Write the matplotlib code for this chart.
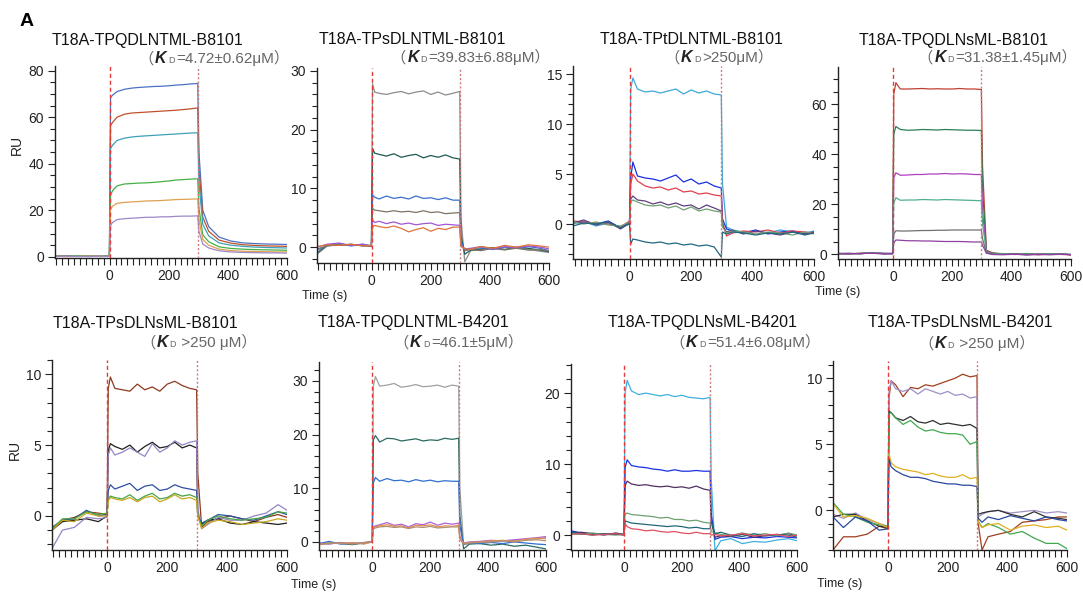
import matplotlib
matplotlib.use("Agg")
import matplotlib.pyplot as plt
from matplotlib.ticker import MultipleLocator
from matplotlib.offsetbox import TextArea, HPacker, AnnotationBbox

W, H = 1083, 592
FAM = ['Liberation Sans', 'Noto Sans CJK SC', 'DejaVu Sans']

# sampled time points (s), shared by every sensorgram
TIME = [-185, -150, -110, -70, -30, -1,
        3, 10, 25, 50, 75, 100, 125, 150, 175, 200, 225, 250, 275, 298,
        302, 315, 335, 370, 410, 450, 490, 530, 570, 600]

TITLES = ['T18A-TPQDLNTML-B8101', 'T18A-TPsDLNTML-B8101', 'T18A-TPtDLNTML-B8101', 'T18A-TPQDLNsML-B8101',
          'T18A-TPsDLNsML-B8101', 'T18A-TPQDLNTML-B4201', 'T18A-TPQDLNsML-B4201', 'T18A-TPsDLNsML-B4201']
KD_VALUES = ['=4.72±0.62μM', '=39.83±6.88μM', '>250μM', '=31.38±1.45μM',
             ' >250 μM', '=46.1±5μM', '=51.4±6.08μM', ' >250 μM']

# RU responses, one list per concentration
RU_1 = [
    [0.5, 0.4, 0.3, 0.2, 0.3, 0.5, 68.5, 69.5, 71.0, 72.0, 72.5, 72.8, 73.0, 73.2, 73.3, 73.5, 73.8, 74.0, 74.3, 74.5, 45.0, 20.0, 13.0, 8.5, 6.8, 6.0, 5.7, 5.5, 5.4, 5.3],
    [0.3, 0.5, 0.2, 0.4, 0.2, 0.4, 56.5, 57.8, 60.0, 61.3, 61.8, 62.0, 62.2, 62.4, 62.6, 62.8, 63.0, 63.3, 63.6, 64.0, 38.0, 17.0, 11.0, 7.2, 5.9, 5.2, 4.9, 4.7, 4.6, 4.5],
    [0.2, 0.3, 0.4, 0.1, 0.3, 0.2, 46.5, 48.0, 50.0, 51.0, 51.5, 51.8, 52.0, 52.2, 52.4, 52.6, 52.8, 53.0, 53.2, 53.3, 32.0, 14.0, 9.0, 6.0, 5.0, 4.5, 4.2, 4.0, 3.9, 3.8],
    [0.4, 0.2, 0.3, 0.5, 0.1, 0.3, 26.5, 28.5, 30.5, 31.3, 31.5, 31.7, 31.8, 32.0, 32.3, 32.6, 33.0, 33.2, 33.4, 33.5, 21.0, 9.5, 6.5, 4.3, 3.6, 3.3, 3.1, 3.0, 2.9, 2.8],
    [0.3, 0.1, 0.2, 0.3, 0.2, 0.2, 20.5, 21.8, 23.0, 23.4, 23.6, 23.8, 24.0, 24.1, 24.2, 24.4, 24.6, 24.7, 24.8, 24.9, 16.0, 7.5, 5.0, 3.3, 2.7, 2.4, 2.3, 2.2, 2.1, 2.1],
    [0.2, 0.3, 0.1, 0.2, 0.3, 0.1, 13.5, 14.8, 16.0, 16.4, 16.6, 16.8, 17.0, 17.0, 17.2, 17.2, 17.4, 17.5, 17.5, 17.6, 11.0, 5.5, 3.8, 2.6, 2.1, 1.9, 1.8, 1.7, 1.7, 1.6],
]
RU_2 = [
    [-1.2, 0.2, 0.5, 0.3, 0.4, 0.1, 27.8, 26.4, 26.2, 26.0, 26.3, 26.5, 26.1, 26.4, 26.6, 26.0, 26.4, 25.9, 26.2, 26.5, 5.0, -2.5, -0.6, -0.4, -0.2, -0.5, -0.1, -0.4, -0.7, -0.9],
    [-1.0, 0.4, 0.3, 0.5, 0.2, 0.3, 16.8, 16.0, 15.8, 15.5, 15.9, 15.3, 15.6, 15.8, 15.2, 15.6, 15.3, 15.7, 15.2, 15.0, 2.0, -1.2, -0.5, -0.3, -0.1, -0.4, 0.0, -0.2, -0.5, -0.8],
    [-0.5, 0.3, 0.6, 0.2, 0.5, 0.2, 8.9, 8.5, 8.2, 8.7, 8.3, 8.5, 8.2, 8.7, 8.3, 8.4, 8.1, 8.4, 8.0, 8.0, 1.0, -0.5, -0.3, -0.1, -0.4, 0.0, -0.2, 0.1, -0.2, -0.6],
    [-0.3, 0.2, 0.4, 0.3, 0.3, 0.1, 6.6, 6.3, 6.2, 6.0, 6.2, 6.0, 6.1, 5.9, 6.2, 5.9, 6.0, 5.7, 5.8, 5.9, 0.5, -0.6, -0.4, -0.6, -0.2, -0.4, -0.2, -0.5, -0.4, -0.7],
    [0.0, 0.5, 0.7, 0.3, 0.5, 0.2, 4.6, 4.2, 4.4, 4.0, 4.3, 3.9, 4.1, 3.8, 4.0, 4.1, 3.7, 3.9, 3.8, 3.7, 0.2, -0.3, -0.2, 0.1, -0.3, 0.1, -0.1, 0.2, 0.0, -0.3],
    [0.1, 0.4, 0.3, 0.5, 0.2, 0.3, 3.4, 3.7, 3.5, 3.3, 3.6, 3.2, 2.6, 3.0, 3.3, 2.7, 3.2, 3.0, 3.4, 3.4, 0.1, -0.2, -0.4, 0.1, -0.2, 0.3, 0.0, 0.4, 0.2, 0.0],
]
RU_3 = [
    [0.0, 0.3, -0.2, 0.1, -0.3, 0.1, 13.5, 14.6, 13.5, 13.2, 13.3, 13.1, 13.3, 13.5, 13.0, 13.4, 13.1, 13.3, 13.0, 12.9, 4.0, -0.3, -0.6, -0.8, -0.7, -0.9, -0.6, -0.8, -0.9, -0.7],
    [0.2, 0.1, 0.0, 0.3, -0.4, 0.2, 4.6, 6.2, 4.8, 4.6, 4.5, 4.3, 4.6, 4.9, 4.2, 4.5, 4.0, 4.2, 3.8, 3.6, 0.5, -0.5, -0.7, -0.9, -0.6, -1.0, -0.8, -0.7, -1.0, -0.8],
    [0.3, 0.2, 0.1, 0.0, -0.3, 0.3, 4.0, 5.0, 4.3, 3.8, 3.6, 3.7, 3.4, 3.6, 3.2, 3.3, 3.0, 3.1, 2.9, 2.8, 0.2, -1.2, -0.9, -0.7, -0.8, -0.6, -0.9, -0.7, -0.8, -0.9],
    [0.1, 0.4, -0.1, 0.2, -0.5, 0.1, 2.5, 2.8, 2.4, 2.3, 2.0, 2.2, 1.9, 2.1, 1.8, 1.9, 1.5, 1.9, 1.6, 1.3, -0.2, -0.8, -0.6, -1.0, -0.7, -0.9, -1.1, -0.8, -1.0, -0.9],
    [0.2, 0.0, 0.2, -0.1, -0.2, 0.2, 2.2, 2.4, 2.2, 1.9, 1.8, 1.9, 1.6, 1.8, 1.4, 1.7, 1.3, 1.5, 1.3, 1.2, -0.3, -0.9, -0.7, -0.8, -1.0, -0.8, -0.9, -1.1, -0.8, -1.0],
    [-0.2, 0.1, 0.0, 0.2, -0.4, 0.0, -2.0, -1.5, -1.6, -1.8, -1.9, -1.8, -2.0, -1.9, -2.1, -2.0, -2.2, -2.1, -2.3, -3.3, -0.8, -1.0, -0.8, -0.9, -1.1, -0.9, -1.0, -0.8, -1.1, -0.9],
]
RU_4 = [
    [0.2, 0.0, 0.3, 0.5, 0.1, 0.2, 64.0, 68.5, 66.0, 66.0, 66.1, 66.2, 66.0, 66.1, 66.0, 66.0, 66.2, 66.0, 66.0, 65.8, 35.0, 1.5, 0.5, 0.0, -0.2, 0.1, -0.3, 0.0, -0.2, -0.3],
    [0.3, 0.1, 0.2, 0.4, 0.2, 0.1, 48.0, 51.0, 49.8, 49.5, 49.6, 49.8, 49.7, 49.6, 49.8, 49.7, 49.6, 49.5, 49.5, 49.4, 26.0, 1.2, 0.3, 0.1, -0.1, 0.2, -0.2, 0.1, 0.0, -0.2],
    [0.1, 0.3, 0.0, 0.6, 0.3, 0.2, 30.5, 32.5, 31.5, 31.6, 31.8, 31.8, 32.0, 32.0, 32.2, 32.0, 32.1, 32.0, 31.8, 31.8, 17.0, 1.0, 0.2, -0.1, 0.1, -0.3, 0.0, -0.2, 0.1, -0.4],
    [0.2, 0.2, 0.1, 0.5, 0.2, 0.3, 20.5, 22.5, 21.5, 21.6, 21.6, 21.8, 21.7, 21.6, 21.8, 21.7, 21.6, 21.5, 21.4, 21.3, 12.0, 0.8, 0.1, 0.2, -0.1, 0.0, -0.2, 0.1, -0.1, -0.2],
    [0.1, 0.2, 0.2, 0.4, 0.1, 0.2, 8.0, 9.3, 9.2, 9.2, 9.3, 9.4, 9.4, 9.5, 9.5, 9.6, 9.6, 9.6, 9.6, 9.6, 6.0, 0.5, 0.0, -0.1, 0.1, -0.2, 0.0, -0.1, 0.0, -0.2],
    [0.0, 0.1, 0.2, 0.3, 0.0, 0.1, 4.5, 5.6, 5.5, 5.3, 5.3, 5.2, 5.2, 5.1, 5.0, 5.0, 5.0, 4.9, 4.8, 4.8, 3.5, 0.3, -0.2, -0.3, -0.1, -0.4, -0.2, -0.3, -0.1, -0.3],
]
RU_5 = [
    [-1.0, -0.3, -0.1, 0.3, 0.2, 0.1, 9.0, 9.8, 9.0, 8.9, 8.8, 9.3, 8.9, 9.1, 8.8, 9.3, 9.5, 9.2, 9.0, 8.9, 3.0, -0.8, -0.4, -0.2, 0.0, -0.2, -0.4, -0.1, 0.1, -0.1],
    [-1.0, -0.4, -0.3, -0.2, -0.4, 0.0, 4.6, 5.1, 4.9, 4.7, 5.0, 4.5, 4.9, 5.2, 4.8, 4.9, 5.2, 4.8, 5.0, 4.8, 0.0, -0.6, -0.3, -0.2, -0.5, -0.6, -0.4, -0.5, -0.6, -0.5],
    [-2.3, -1.0, -0.8, -0.1, -0.2, -0.1, 4.3, 4.8, 4.3, 4.5, 4.8, 4.5, 4.2, 5.1, 4.5, 4.8, 5.3, 5.0, 5.2, 5.3, 0.5, -0.9, -0.6, -0.1, -0.3, -0.3, 0.0, 0.2, 0.8, 0.4],
    [-0.8, -0.3, -0.2, 0.4, 0.0, 0.1, 1.8, 2.2, 1.9, 2.1, 2.3, 1.8, 2.1, 2.2, 1.8, 1.9, 2.2, 2.0, 1.9, 1.8, 0.0, -0.5, -0.3, 0.1, 0.0, -0.2, -0.3, 0.0, 0.3, 0.1],
    [-0.9, -0.2, -0.2, 0.3, 0.1, 0.2, 1.2, 1.4, 1.3, 1.2, 1.5, 1.1, 1.4, 1.6, 1.2, 1.3, 1.6, 1.4, 1.5, 1.3, 0.0, -0.7, -0.3, 0.0, -0.2, -0.3, -0.2, -0.1, 0.3, 0.2],
    [-1.0, -0.3, -0.4, 0.2, 0.0, 0.0, 1.1, 1.3, 1.2, 1.1, 1.3, 1.0, 1.3, 1.4, 1.0, 1.2, 1.5, 1.2, 1.3, 1.1, 0.0, -0.9, -0.5, -0.3, -0.4, -0.6, -0.5, -0.4, -0.2, -0.3],
]
RU_6 = [
    [-0.5, -0.3, -0.2, -0.4, -0.1, 0.0, 29.0, 30.8, 29.0, 29.2, 29.5, 28.8, 29.0, 29.3, 28.9, 29.0, 29.2, 28.8, 29.2, 29.0, 10.0, -0.5, -0.3, -0.2, 0.0, 0.2, 0.3, 0.5, 0.6, 0.8],
    [-0.4, -0.2, -0.3, -0.5, -0.2, 0.1, 19.0, 19.8, 18.6, 19.3, 19.2, 18.8, 19.0, 19.2, 18.8, 19.0, 18.9, 19.3, 19.1, 19.3, 5.0, -1.3, -0.4, -0.3, -0.6, -0.4, -0.8, -0.6, -1.0, -1.3],
    [-0.3, 0.1, -0.4, -0.2, -0.3, 0.0, 11.0, 12.0, 11.3, 11.8, 11.4, 11.5, 11.2, 11.6, 11.3, 11.5, 11.2, 11.4, 11.3, 11.3, 3.0, -0.4, -0.2, -0.3, -0.1, -0.3, 0.0, -0.2, -0.4, -0.5],
    [-0.2, -0.4, -0.1, -0.3, -0.2, 0.1, 2.8, 3.0, 3.2, 3.6, 3.1, 3.3, 2.8, 3.4, 3.2, 3.7, 3.1, 3.5, 3.3, 3.5, 1.0, -0.2, 0.0, 0.1, 0.3, 0.2, 0.4, 0.6, 0.8, 1.0],
    [-0.5, -0.2, -0.3, -0.1, -0.4, 0.0, 2.6, 2.8, 3.0, 3.2, 2.9, 3.0, 2.6, 3.1, 3.0, 3.2, 2.8, 3.0, 2.9, 3.1, 0.8, -0.3, -0.1, 0.0, 0.2, 0.3, 0.1, 0.5, 0.7, 0.6],
    [-0.4, -0.3, -0.2, -0.4, -0.1, 0.0, 2.4, 2.6, 2.8, 2.9, 2.7, 2.8, 2.5, 2.8, 2.7, 2.9, 2.6, 2.7, 2.8, 2.8, 0.6, -0.4, -0.2, -0.1, 0.0, 0.2, 0.0, 0.3, 0.4, 0.2],
]
RU_7 = [
    [0.5, 0.3, 0.2, 0.1, 0.2, 0.1, 20.0, 21.8, 20.3, 19.8, 20.0, 19.8, 19.6, 19.8, 19.5, 19.7, 19.4, 19.3, 19.2, 19.4, 8.0, -2.2, -0.8, -0.5, -1.2, -0.9, -1.0, -0.7, -0.5, -0.8],
    [0.6, 0.3, 0.1, 0.2, 0.1, 0.2, 9.5, 10.6, 9.8, 9.6, 9.5, 9.3, 9.2, 9.0, 9.2, 9.0, 9.0, 9.1, 9.0, 9.0, 3.0, -0.6, -0.3, -0.2, -0.5, -0.3, -0.4, -0.2, -0.3, -0.4],
    [0.3, 0.4, 0.2, 0.0, 0.3, 0.1, 7.0, 7.6, 7.2, 7.0, 7.1, 6.9, 6.8, 6.9, 6.7, 6.8, 6.6, 6.9, 6.5, 6.3, 2.0, -0.3, -0.1, -0.2, 0.1, -0.3, -0.1, 0.0, 0.2, -0.1],
    [0.2, 0.1, 0.3, 0.1, 0.0, 0.2, 3.0, 3.1, 2.9, 2.8, 2.7, 2.6, 2.4, 2.5, 2.2, 2.2, 2.0, 2.1, 1.8, 1.7, 0.5, 0.3, 0.1, -0.1, 0.3, 0.0, 0.2, -0.1, 0.3, 0.0],
    [0.4, 0.2, 0.0, 0.2, 0.1, 0.0, 2.0, 1.9, 1.7, 1.6, 1.5, 1.4, 1.3, 1.2, 1.3, 1.2, 1.0, 1.1, 0.9, 0.9, 2.0, 0.2, 0.4, 0.0, -0.2, 0.2, -0.1, 0.1, 0.0, -0.3],
    [0.1, 0.2, 0.0, 0.1, 0.2, 0.0, 1.6, 1.2, 0.9, 0.8, 0.6, 0.7, 0.5, 0.4, 0.5, 0.3, 0.2, 0.4, 0.2, 0.2, 0.0, 0.1, -0.1, 0.0, 0.2, -0.1, 0.0, 0.1, -0.2, 0.0],
]
RU_8 = [
    [-3.0, -2.0, -2.0, -1.8, -1.2, -1.4, 8.5, 9.8, 9.5, 8.6, 9.3, 9.2, 9.5, 9.4, 9.6, 9.8, 10.0, 10.3, 10.1, 10.2, -1.0, -3.0, -2.0, -1.8, -1.6, -0.9, -0.8, -0.7, -0.5, -0.5],
    [-0.3, -0.6, -0.2, -0.7, -1.0, -1.2, 9.0, 9.8, 9.2, 9.0, 9.2, 8.8, 9.2, 9.0, 8.8, 9.0, 8.7, 8.8, 8.5, 8.6, -0.5, -0.3, -0.1, 0.0, -0.2, -0.1, 0.0, -0.2, -0.1, -0.2],
    [-0.5, -0.3, -0.3, -0.8, -1.2, -1.3, 7.5, 7.4, 7.0, 6.8, 7.1, 6.7, 6.6, 6.8, 6.5, 6.6, 6.5, 6.4, 6.5, 6.2, -0.3, -0.2, -0.1, 0.0, -0.3, -0.5, -0.1, -0.5, -0.6, -0.7],
    [0.6, -0.3, -0.5, -0.9, -1.1, -1.2, 7.3, 7.4, 7.0, 6.5, 6.8, 6.3, 6.0, 6.1, 5.9, 5.8, 5.8, 5.7, 5.0, 5.2, -0.8, -1.3, -1.0, -1.3, -1.8, -1.6, -2.1, -2.5, -2.5, -2.9],
    [0.5, -0.5, -0.4, -0.6, -1.0, -1.3, 4.3, 3.6, 3.3, 3.1, 3.0, 2.9, 2.7, 2.8, 2.6, 2.5, 2.5, 2.7, 2.4, 2.5, -0.9, -1.3, -1.1, -1.0, -1.5, -1.2, -1.1, -1.3, -1.2, -1.5],
    [-0.5, -1.3, -0.5, -0.8, -1.5, -1.4, 3.9, 3.3, 3.0, 2.7, 2.5, 2.5, 2.4, 2.2, 2.1, 2.0, 2.0, 1.9, 1.9, 1.8, -0.6, -0.9, -0.5, -0.7, -0.4, -0.6, -0.8, -0.5, -0.7, -0.8],
]
PANELS = [RU_1, RU_2, RU_3, RU_4, RU_5, RU_6, RU_7, RU_8]

COLORS = [
    ['#4a72c4', '#c0502a', '#3fa0b8', '#46b046', '#e0a050', '#9d88c8'],
    ['#8c8c8c', '#1f5a50', '#3a6fcf', '#7d7563', '#a256d0', '#e0743a'],
    ['#3ea8d8', '#1a30e0', '#e04050', '#604080', '#70a070', '#206880'],
    ['#c04030', '#2a8050', '#b040c0', '#50b090', '#707070', '#9040a0'],
    ['#8b3a1e', '#1e1e1e', '#9585c5', '#2d4ea3', '#47a447', '#c9a81e'],
    ['#a0a0a0', '#2a6a60', '#3070d0', '#b060d0', '#e09050', '#b09070'],
    ['#40b0e0', '#1a30e0', '#503060', '#70a070', '#206878', '#e05060'],
    ['#a04020', '#a090c8', '#303030', '#40a850', '#e0b020', '#2848a0'],
]

# layout in pixels: left, top, right, bottom of each plot frame
BOXES = [(55, 66, 287, 258), (317, 68, 549, 263), (573, 66, 814, 259), (838, 67, 1071, 259),
         (52, 360, 287, 550), (319, 362, 546, 550), (571, 364, 797, 550), (833, 361, 1067, 550)]
YLIMS = [(-0.5, 82), (-2.7, 30.5), (-3.5, 15.8), (-2, 74.8),
         (-2.4, 11), (-1.5, 33.5), (-2.1, 24.1), (-3.0, 11.3)]
YSTEPS = [(20, 5), (10, 2), (5, 1), (20, 5), (5, 1), (10, 2), (10, 2), (5, 1)]
TITLE_POS = [(148, 41), (412, 40), (692, 40), (954, 40), (145, 323), (413, 323), (703, 323), (960, 322)]
KD_POS = [(289, 58), (550, 57), (773, 57), (1077, 57), (257, 342), (523, 342), (820, 342), (1035, 343)]


def fx(px):
    return px / W


def fy(py):
    return 1 - py / H


def kd_label(fig, x, y, value):
    gray = '#666666'
    parts = [TextArea('（', textprops=dict(color=gray, size=11, family=FAM)),
             TextArea('K', textprops=dict(color='#222222', size=11.5, weight='bold', style='italic', family=FAM)),
             TextArea('D', textprops=dict(color=gray, size=6.5, family=FAM)),
             TextArea(value + '）', textprops=dict(color=gray, size=11, family=FAM))]
    box = HPacker(children=parts, align='baseline', pad=0, sep=1)
    ab = AnnotationBbox(box, (fx(x), fy(y)), xycoords='figure fraction',
                        box_alignment=(1, 0.5), frameon=False, pad=0)
    fig.add_artist(ab)


fig = plt.figure(figsize=(W / 100, H / 100), dpi=100)

for i, curves in enumerate(PANELS):
    l, t, r, b = BOXES[i]
    ax = fig.add_axes([fx(l), fy(b), (r - l) / W, (b - t) / H])
    for vals, c in zip(curves, COLORS[i]):
        ax.plot(TIME, vals, color=c, lw=0.9, zorder=2)
    ax.axvline(0, color='#e23b3b', ls=(0, (3, 2)), lw=1.0, zorder=3)
    ax.axvline(298, color='#cc7a7a', ls=(0, (1.5, 1.5)), lw=1.0, zorder=3)
    ax.set_xlim(-185, 600)
    ax.set_ylim(*YLIMS[i])
    ax.xaxis.set_major_locator(MultipleLocator(200))
    ax.xaxis.set_minor_locator(MultipleLocator(20))
    ax.yaxis.set_major_locator(MultipleLocator(YSTEPS[i][0]))
    ax.yaxis.set_minor_locator(MultipleLocator(YSTEPS[i][1]))
    for s in ['top', 'right']:
        ax.spines[s].set_visible(False)
    for s in ['left', 'bottom']:
        ax.spines[s].set_color('#222222')
        ax.spines[s].set_linewidth(1.0)
    ax.tick_params(which='major', length=5, width=0.8, color='#222222', labelsize=10,
                   labelcolor='#222222', pad=3)
    ax.tick_params(which='minor', length=3.5, width=0.8, color='#222222')
    ax.tick_params(axis='x', which='minor', length=5)
    for lab in ax.get_xticklabels() + ax.get_yticklabels():
        lab.set_family(FAM)

    tx, ty = TITLE_POS[i]
    fig.text(fx(tx), fy(ty), TITLES[i], ha='center', va='center', size=11.5, color='#111111', family=FAM)
    kx, ky = KD_POS[i]
    kd_label(fig, kx, ky, KD_VALUES[i])

fig.text(fx(27), fy(22), 'A', ha='center', va='center', size=14, weight='bold', family=FAM)
fig.text(fx(17), fy(145), 'RU', ha='center', va='center', rotation=90, size=10, color='#222222', family=FAM)
fig.text(fx(15), fy(450), 'RU', ha='center', va='center', rotation=90, size=10, color='#222222', family=FAM)
for x, y in [(325, 296), (838, 292), (314, 585), (840, 584)]:
    fig.text(fx(x), fy(y), 'Time (s)', ha='center', va='center', size=9, color='#222222', family=FAM)

fig.savefig('out.png', dpi=100)
